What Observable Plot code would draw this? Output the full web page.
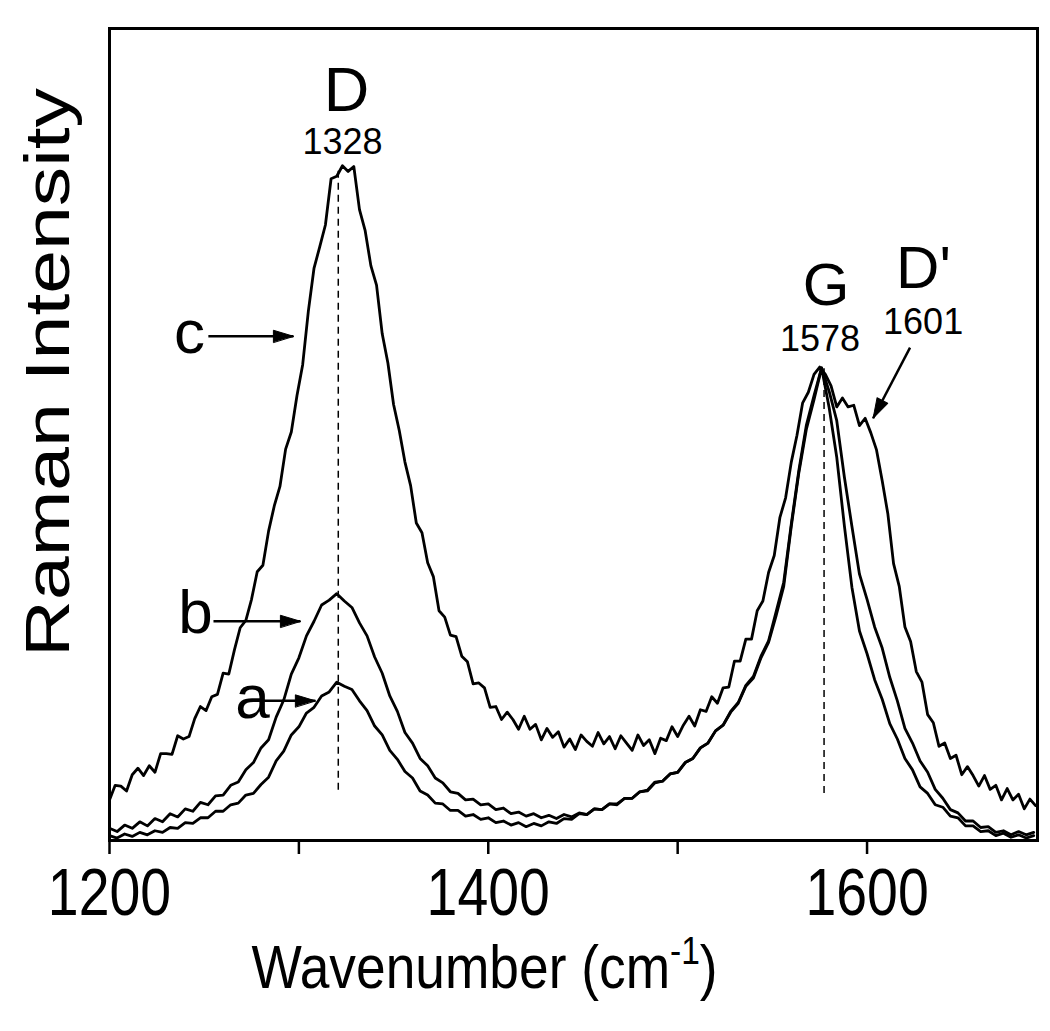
<!DOCTYPE html>
<html>
<head>
<meta charset="utf-8">
<script src="https://cdn.jsdelivr.net/npm/d3@7"></script>
<script src="https://cdn.jsdelivr.net/npm/@observablehq/plot@0.6"></script>
<style>
  html, body { margin: 0; padding: 0; background: #fff; }
  #chart svg { display: block; }
</style>
</head>
<body>
<div id="chart"></div>
<script>
// ---------- data ----------
// wavenumber grids (cm^-1) on which the spectra were read
const waveC = d3.range(1200, 1690, 3);   // 1200 ... 1689
const waveAB = d3.range(1200, 1690, 4);  // 1200 ... 1688

// spectrum c (top, noisy)
const intensityC = [
  5.0, 6.8, 6.7, 6.1, 8.1, 8.9, 8.0, 9.2, 8.4, 10.7,
  10.7, 10.6, 12.9, 12.5, 12.8, 15.0, 16.5, 16.0, 17.7, 18.0,
  20.6, 20.5, 23.5, 26.2, 27.1, 29.7, 33.1, 33.9, 38.1, 41.2,
  43.6, 48.2, 50.3, 54.8, 58.6, 65.2, 70.5, 73.1, 75.8, 81.5,
  81.8, 83.1, 82.4, 83.0, 77.7, 75.1, 70.8, 68.4, 62.4, 58.8,
  53.7, 50.5, 46.6, 43.7, 39.1, 37.9, 34.2, 32.5, 28.3, 27.5,
  25.3, 25.1, 22.7, 22.0, 19.3, 19.4, 18.8, 16.4, 16.5, 14.9,
  15.8, 14.9, 13.7, 15.3, 13.7, 14.3, 12.4, 13.8, 12.7, 13.4,
  11.5, 12.5, 11.2, 13.0, 12.2, 11.6, 13.3, 11.9, 12.8, 11.3,
  12.9, 12.0, 11.1, 13.0, 11.7, 12.4, 10.7, 12.6, 12.3, 14.0,
  12.8, 14.2, 15.3, 14.1, 16.1, 15.9, 17.7, 16.9, 18.8, 18.9,
  22.1, 22.1, 24.8, 24.8, 28.3, 29.5, 33.0, 35.1, 39.8, 42.2,
  46.6, 49.9, 53.9, 55.2, 57.4, 58.3, 57.4, 56.0, 53.4, 54.5,
  53.4, 53.6, 51.1, 52.0, 50.2, 48.1, 44.3, 40.2, 34.1, 31.3,
  26.3, 24.5, 20.8, 19.5, 15.5, 14.5, 11.6, 12.0, 10.1, 10.5,
  8.1, 9.1, 8.0, 6.7, 8.0, 6.3, 6.8, 5.0, 6.4, 5.0,
  5.7, 3.9, 5.1, 4.3
];

// spectrum b (middle)
const intensityB = [
  1.5, 1.1, 1.9, 1.5, 2.3, 1.8, 2.7, 2.3, 3.3, 2.9,
  3.9, 3.6, 4.7, 4.4, 5.5, 5.6, 6.8, 7.2, 8.7, 9.6,
  11.4, 12.4, 15.2, 17.3, 20.5, 22.5, 25.2, 27.0, 29.0, 29.6,
  30.4, 29.5, 28.7, 26.8, 25.2, 22.6, 20.6, 17.8, 15.9, 13.3,
  12.0, 10.1, 9.2, 7.7, 7.1, 6.0, 5.8, 5.0, 5.1, 4.4,
  4.5, 3.8, 4.0, 3.3, 3.5, 3.0, 3.3, 2.8, 3.1, 2.7,
  3.2, 2.9, 3.4, 3.2, 3.9, 3.8, 4.5, 4.5, 5.2, 5.2,
  6.0, 6.2, 7.2, 7.3, 8.2, 8.4, 9.6, 10.1, 11.4, 12.0,
  13.5, 14.2, 15.8, 16.9, 19.0, 20.0, 22.5, 24.4, 27.7, 31.3,
  38.7, 45.3, 50.7, 54.3, 58.2, 55.3, 51.7, 44.8, 38.7, 32.8,
  29.7, 26.3, 23.7, 20.1, 17.2, 13.8, 12.0, 9.8, 8.4, 6.3,
  5.2, 3.8, 3.4, 2.4, 2.4, 1.6, 1.7, 1.0, 1.2, 0.7,
  1.1, 0.7, 1.0
];

// spectrum a (bottom)
const intensityA = [
  0.6, 0.3, 0.8, 0.5, 1.0, 0.7, 1.2, 1.0, 1.6, 1.5,
  2.2, 2.1, 2.8, 2.8, 3.6, 3.6, 4.4, 4.6, 5.6, 5.8,
  6.9, 7.8, 9.8, 11.0, 13.0, 14.0, 15.7, 16.4, 17.8, 18.3,
  19.5, 19.0, 18.6, 17.2, 16.0, 14.1, 13.0, 11.1, 10.0, 8.5,
  7.7, 6.1, 5.6, 4.6, 4.5, 3.7, 3.7, 3.0, 3.2, 2.6,
  2.8, 2.2, 2.4, 1.9, 2.2, 1.7, 2.1, 1.8, 2.3, 2.1,
  2.7, 2.6, 3.3, 3.2, 3.9, 3.8, 4.5, 4.4, 5.2, 5.2,
  6.0, 6.1, 7.1, 7.3, 8.2, 8.4, 9.6, 10.1, 11.4, 12.0,
  13.5, 14.2, 15.9, 17.0, 19.1, 20.2, 22.7, 24.6, 28.2, 31.8,
  39.0, 45.6, 51.2, 54.8, 58.2, 53.3, 47.2, 38.8, 31.2, 25.8,
  23.0, 19.8, 17.4, 14.4, 12.5, 10.1, 8.7, 6.6, 5.8, 4.4,
  4.1, 3.0, 2.8, 1.8, 1.8, 1.1, 1.2, 0.6, 0.9, 0.4,
  0.7, 0.3, 0.6
];

// axis
const xDomain = [1200, 1690];
const yDomain = [0, 100];
const xTicks = [1200, 1300, 1400, 1500, 1600];
const xTickLabels = ["1200", "1400", "1600"];
const xTitle = "Wavenumber (cm-1)";
const yTitle = "Raman Intensity";

// band markers (dashed lines)
const dashX = [1320.8, 1577.3];
const dashY1 = [6.2, 5.8];
const dashY2 = [82.8, 58.1];

// annotation texts
const noteText = ["D", "1328", "G", "1578", "D'", "1601", "c", "b", "a"];
const noteX = [1325.1, 1323.0, 1578.4, 1575.2, 1629.8, 1629.6, 1242.2, 1245.4, 1275.5];
const noteY = [89.9, 84.5, 65.9, 60.3, 68.0, 62.4, 60.0, 25.6, 15.1];
const noteSize = [63, 36, 60, 36, 60, 36, 62, 62, 62];

// arrows (tail -> head)
const arrowX1 = [1252.2, 1254.9, 1280.7, 1622.7];
const arrowY1 = [62.1, 27.0, 17.2, 60.7];
const arrowX2 = [1297.1, 1300.8, 1308.7, 1603.2];
const arrowY2 = [62.1, 27.0, 17.2, 52.0];

// ---------- build ----------
const W = 1050, H = 1031;
const mL = 109, mR = 13, mT = 28, mB = 191;

const seriesC = waveC.map((w, i) => ({w, v: intensityC[i]}));
const seriesB = waveAB.map((w, i) => ({w, v: intensityB[i]}));
const seriesA = waveAB.map((w, i) => ({w, v: intensityA[i]}));
const notes = noteText.map((t, i) => ({t, x: noteX[i], y: noteY[i], s: noteSize[i]}));
const dashes = dashX.map((x, i) => ({x, y1: dashY1[i], y2: dashY2[i]}));

const kx = (W - mL - mR) / (xDomain[1] - xDomain[0]);
const ky = (H - mT - mB) / (yDomain[1] - yDomain[0]);
const arrows = arrowX1.map((x1, i) => {
  const dxp = (arrowX2[i] - x1) * kx;
  const dyp = -(arrowY2[i] - arrowY1[i]) * ky;
  return {x1, y1: arrowY1[i], x2: arrowX2[i], y2: arrowY2[i],
          rot: Math.atan2(dxp, -dyp) * 180 / Math.PI};
});

const headShape = {
  draw(context, l) {
    context.moveTo(0, -l);
    context.lineTo(-6, -l + 20);
    context.lineTo(6, -l + 20);
    context.closePath();
  }
};

const lineStyle = {x: "w", y: "v", stroke: "#000", strokeWidth: 2.8, strokeLinejoin: "round"};

const plot = Plot.plot({
  width: W,
  height: H,
  marginLeft: mL,
  marginRight: mR,
  marginTop: mT,
  marginBottom: mB,
  style: {fontFamily: "'Liberation Sans', Arial, sans-serif", background: "#fff", color: "#000"},
  x: {domain: xDomain, axis: null, label: null},
  y: {domain: yDomain, axis: null, label: null},
  marks: [
    Plot.ruleX(dashes, {x: "x", y1: "y1", y2: "y2", stroke: "#000", strokeWidth: 1.5, strokeDasharray: "7,5"}),
    Plot.line(seriesA, lineStyle),
    Plot.line(seriesB, lineStyle),
    Plot.line(seriesC, lineStyle),
    Plot.link(arrows, {x1: "x1", y1: "y1", x2: "x2", y2: "y2", stroke: "#000", strokeWidth: 2.5}),
    Plot.vector(arrows, {x: "x2", y: "y2", rotate: "rot", length: 20, anchor: "end",
      shape: headShape, fill: "#000", stroke: "#000", strokeWidth: 1}),
    Plot.text(notes, {x: "x", y: "y", text: "t", fontSize: "s", lineAnchor: "bottom", fill: "#000"}),
    Plot.axisX({ticks: xTicks, tickSize: 14, tickPadding: 14,
      tickFormat: d => xTickLabels.includes(String(d)) ? String(d) : "",
      fontSize: 66, strokeWidth: 2.5, label: null, anchor: "bottom"}),
    Plot.text([xTitle], {frameAnchor: "bottom", text: d => d, dx: -89, dy: 147,
      fontSize: 62, textAnchor: "middle", lineAnchor: "bottom", fill: "#000"}),
    Plot.text([yTitle], {frameAnchor: "left", text: d => d, dx: -41, dy: -62, rotate: -90,
      fontSize: 63, textAnchor: "middle", lineAnchor: "bottom", fill: "#000"}),
    Plot.frame({stroke: "#000", strokeWidth: 3})
  ]
});

// horizontal squeeze / stretch of the texts, as in the reference figure
function squeeze(el, s) {
  const x = parseFloat(el.getAttribute("x")) || 0;
  const t = el.getAttribute("transform") || "";
  el.setAttribute("transform", `${t} translate(${x},0) scale(${s},1) translate(${-x},0)`.trim());
}
const NS = "http://www.w3.org/2000/svg";
plot.querySelectorAll("text").forEach(el => {
  const s = el.textContent;
  if (xTickLabels.includes(s)) squeeze(el, 0.84);
  else if (s === yTitle) squeeze(el, 1.25);
  else if (s === xTitle) {
    el.textContent = "";
    const t1 = document.createElementNS(NS, "tspan");
    t1.textContent = "Wavenumber (cm";
    const t2 = document.createElementNS(NS, "tspan");
    t2.setAttribute("dy", "-24");
    t2.setAttribute("font-size", "39");
    t2.textContent = "-1";
    const t3 = document.createElementNS(NS, "tspan");
    t3.setAttribute("dy", "24");
    t3.textContent = ")";
    el.append(t1, t2, t3);
    squeeze(el, 0.86);
  }
});

document.getElementById("chart").append(plot);
</script>
</body>
</html>
